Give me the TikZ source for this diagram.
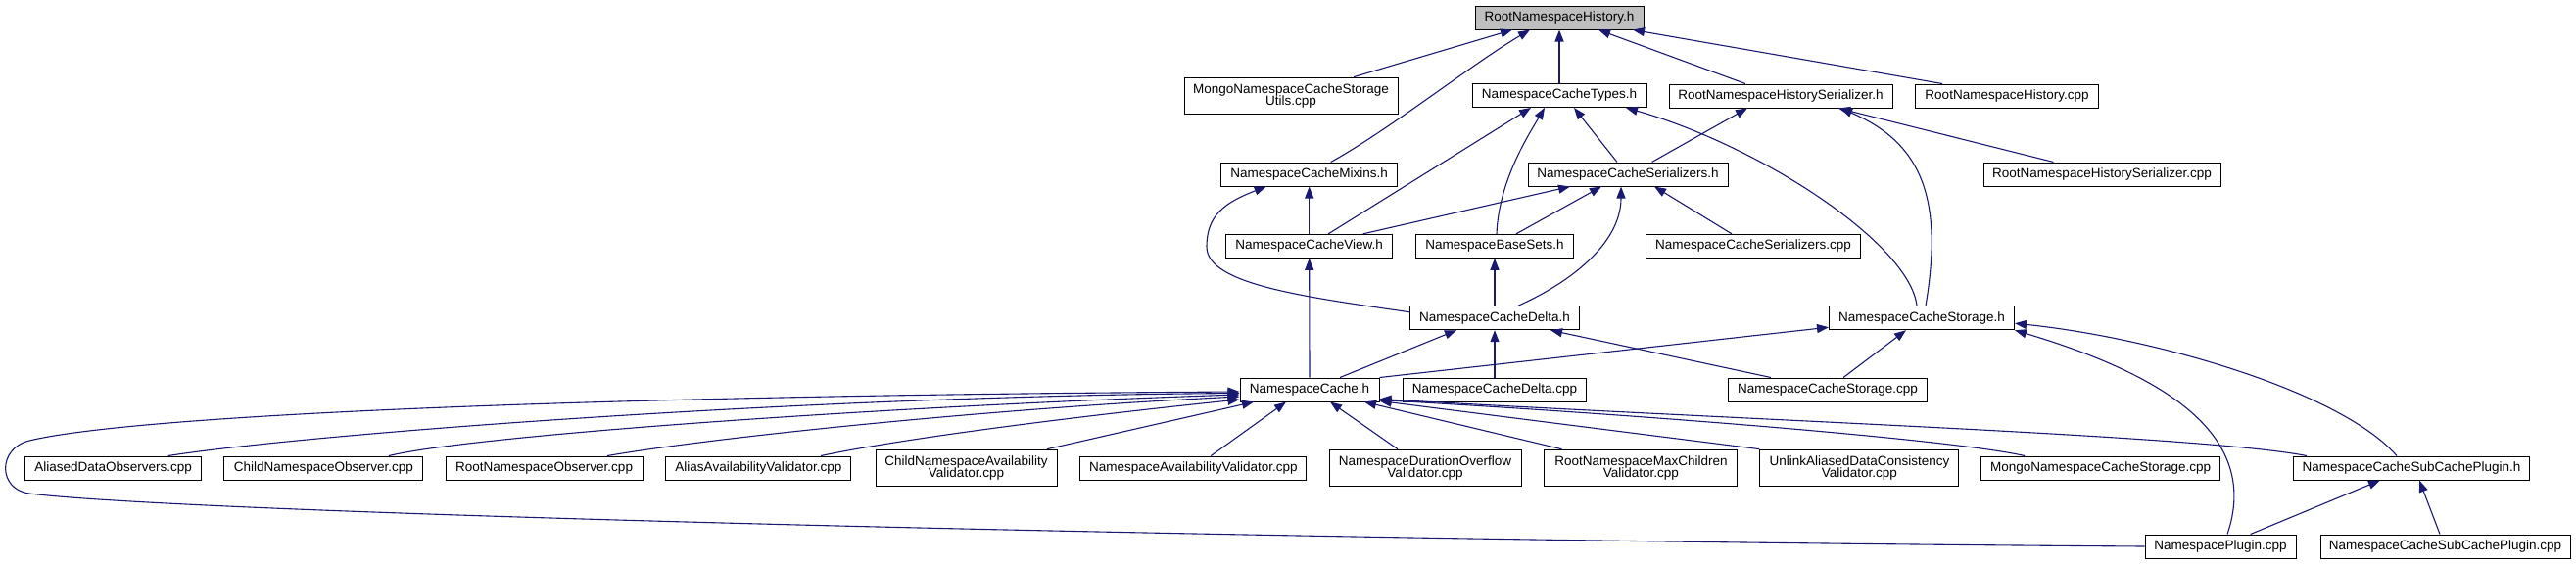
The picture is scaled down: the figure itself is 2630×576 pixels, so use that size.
\documentclass[tikz,border=0pt]{standalone}
\usepackage{fontspec}
\setmainfont{Liberation Sans}
\usetikzlibrary{arrows.meta,calc}
\definecolor{edgeblue}{HTML}{191970}
\definecolor{rootgray}{HTML}{BFBFBF}
\begin{document}
\begin{tikzpicture}[x=1pt, y=-1pt,
  box/.style={draw=black, line width=1pt, fill=white, inner sep=0pt, minimum height=24pt,
    font=\fontsize{13.5}{12.8}\selectfont, align=center},
  dbox/.style={box, minimum height=37.7pt},
  dep/.style={draw=edgeblue, line width=1.1pt, -{Triangle[length=12pt,width=9pt]}}]
\useasboundingbox (0,0) rectangle (2630,576);

% nodes
\node[box, fill=rootgray, minimum width=172pt] (rnh) at (1592,18) {RootNamespaceHistory.h};
\node[dbox, minimum width=218pt] (mutils) at (1318,98) {MongoNamespaceCacheStorage\\Utils.cpp};
\node[box, minimum width=178pt] (types) at (1592,97.5) {NamespaceCacheTypes.h};
\node[box, minimum width=228pt] (rnhs) at (1818,98) {RootNamespaceHistorySerializer.h};
\node[box, minimum width=187pt] (rnhcpp) at (2049,98) {RootNamespaceHistory.cpp};
\node[box, minimum width=180pt] (mixins) at (1336.7,178) {NamespaceCacheMixins.h};
\node[box, minimum width=204pt] (ser) at (1662,178) {NamespaceCacheSerializers.h};
\node[box, minimum width=242pt] (rnhscpp) at (2146,178) {RootNamespaceHistorySerializer.cpp};
\node[box, minimum width=170pt] (view) at (1336.7,251.3) {NamespaceCacheView.h};
\node[box, minimum width=161pt] (basesets) at (1526,251.3) {NamespaceBaseSets.h};
\node[box, minimum width=219pt] (sercpp) at (1790,251.3) {NamespaceCacheSerializers.cpp};
\node[box, minimum width=173pt] (delta) at (1526,324.7) {NamespaceCacheDelta.h};
\node[box, minimum width=189pt] (storage) at (1962,324.7) {NamespaceCacheStorage.h};
\node[box, minimum width=142pt] (nc) at (1337,398) {NamespaceCache.h};
\node[box, minimum width=187pt] (deltacpp) at (1526,398) {NamespaceCacheDelta.cpp};
\node[box, minimum width=203pt] (storagecpp) at (1866,398) {NamespaceCacheStorage.cpp};
\node[box, minimum width=180pt] (ado) at (115.7,478) {AliasedDataObservers.cpp};
\node[box, minimum width=202.7pt] (cno) at (330.3,478) {ChildNamespaceObserver.cpp};
\node[box, minimum width=201pt] (rno) at (555.6,478) {RootNamespaceObserver.cpp};
\node[box, minimum width=189pt] (aav) at (774.4,478) {AliasAvailabilityValidator.cpp};
\node[dbox, minimum width=185pt] (cnav) at (986.5,478) {ChildNamespaceAvailability\\Validator.cpp};
\node[box, minimum width=231pt] (nav) at (1218.3,478) {NamespaceAvailabilityValidator.cpp};
\node[dbox, minimum width=196pt] (ndov) at (1455,478) {NamespaceDurationOverflow\\Validator.cpp};
\node[dbox, minimum width=197pt] (rnmc) at (1675.4,478) {RootNamespaceMaxChildren\\Validator.cpp};
\node[dbox, minimum width=203pt] (uadc) at (1898.4,478) {UnlinkAliasedDataConsistency\\Validator.cpp};
\node[box, minimum width=243.5pt] (mncs) at (2144.6,478) {MongoNamespaceCacheStorage.cpp};
\node[box, minimum width=241pt] (subh) at (2462,478) {NamespaceCacheSubCachePlugin.h};
\node[box, minimum width=154pt] (np) at (2267,558) {NamespacePlugin.cpp};
\node[box, minimum width=255pt] (subcpp) at (2496.5,558) {NamespaceCacheSubCachePlugin.cpp};

% edges to RootNamespaceHistory.h
\draw[dep] ([xshift=64pt]mutils.north) -- ([xshift=-48pt]rnh.south);
\draw[dep] ([xshift=22pt]mixins.north) .. controls (1419,132) and (1502,66) .. ([xshift=-30pt]rnh.south);
\draw[dep] (types.north) -- (rnh.south);
\draw[dep] ([xshift=-36pt]rnhs.north) -- ([xshift=40pt]rnh.south);
\draw[dep] ([xshift=-66pt]rnhcpp.north) -- ([xshift=75pt]rnh.south);

% edges to NamespaceCacheTypes.h
\draw[dep] ([xshift=19.5pt]view.north) -- ([xshift=-29pt]types.south);
\draw[dep] ([xshift=2pt]basesets.north) .. controls (1530,185) and (1561,137) .. ([xshift=-15pt]types.south);
\draw[dep] ([xshift=-11pt]ser.north) -- ([xshift=15pt]types.south);
\draw[dep] ([xshift=-5pt]storage.north) .. controls (1950,250) and (1800,150) .. ([xshift=68pt]types.south);

% edges to RootNamespaceHistorySerializer.h
\draw[dep] ([xshift=24.5pt]ser.north) -- ([xshift=-34pt]rnhs.south);
\draw[dep] ([xshift=-49.5pt]rnhscpp.north) -- ([xshift=59pt]rnhs.south);
\draw[dep] ([xshift=4pt]storage.north) .. controls (1985,200) and (1960,145) .. ([xshift=61pt]rnhs.south);

% edges to NamespaceCacheSerializers.h
\draw[dep] ([xshift=55pt]view.north) -- ([xshift=-59pt]ser.south);
\draw[dep] ([xshift=22pt]basesets.north) -- ([xshift=-27pt]ser.south);
\draw[dep] ([xshift=24pt]delta.north) .. controls (1600,290) and (1655,250) .. ([xshift=-7pt]ser.south);
\draw[dep] ([xshift=-22pt]sercpp.north) -- ([xshift=27pt]ser.south);

% edges to NamespaceCacheMixins.h
\draw[dep] (view.north) -- (mixins.south);
\draw[dep] ([yshift=6pt]delta.west) .. controls (1330,303) and (1232,290) .. (1232,252)
  .. controls (1232,220) and (1250,207) .. ([xshift=-44pt]mixins.south);

% edges to view, base sets
\draw[dep] (nc.north) -- (view.south);
\draw[dep] (delta.north) -- (basesets.south);

% edges to NamespaceCacheDelta.h
\draw[dep] ([xshift=31pt]nc.north) -- ([xshift=-39pt]delta.south);
\draw[dep] (deltacpp.north) -- (delta.south);
\draw[dep] ([xshift=-58pt]storagecpp.north) -- ([xshift=57pt]delta.south);

% edges to NamespaceCacheStorage.h
\draw[dep] (nc.north east) -- ([yshift=-9.5pt]storage.west);
\draw[dep] ([xshift=16pt]storagecpp.north) -- ([xshift=-16pt]storage.south);
\draw[dep] ([xshift=7pt]np.north) .. controls (2310,440) and (2200,380) .. (storage.south east);
\draw[dep] ([xshift=-15pt]subh.north) .. controls (2390,400) and (2200,345) .. ([yshift=-5.5pt]storage.east);

% edges to NamespaceCache.h
\draw[dep] (np.west) .. controls (1300,552) and (200,525) .. (30,504)
  .. controls (-2,500) and (-3,458) .. (30,450)
  .. controls (120,428) and (500,405) .. ([yshift=-2pt]nc.west);
\draw[dep] ([xshift=56pt]ado.north) .. controls (300,445) and (800,405) .. ([yshift=-3.5pt]nc.west);
\draw[dep] ([xshift=66.7pt]cno.north) .. controls (480,445) and (900,415) .. ([yshift=-5pt]nc.west);
\draw[dep] ([xshift=64.4pt]rno.north) .. controls (720,448) and (1000,418) .. ([yshift=-7pt]nc.west);
\draw[dep] ([xshift=63.6pt]aav.north) .. controls (920,448) and (1100,425) .. ([yshift=-10pt]nc.west);
\draw[dep] ([xshift=82.5pt]cnav.north) -- ([xshift=-57pt]nc.south);
\draw[dep] ([xshift=18pt]nav.north) -- ([xshift=-24pt]nc.south);
\draw[dep] ([xshift=-28pt]ndov.north) -- ([xshift=21pt]nc.south);
\draw[dep] ([xshift=-81pt]rnmc.north) -- ([xshift=56pt]nc.south);
\draw[dep] (uadc.north west) -- ([yshift=1pt]nc.south east);
\draw[dep] ([xshift=-77.6pt]mncs.north) .. controls (2000,450) and (1700,425) .. ([yshift=2pt]nc.south east);
\draw[dep] ([xshift=14pt]subh.north west) .. controls (2250,445) and (1800,430) .. ([yshift=3pt]nc.south east);

% edges to NamespaceCacheSubCachePlugin.h
\draw[dep] ([xshift=30.6pt]np.north) -- ([xshift=-32pt]subh.south);
\draw[dep] ([xshift=-5.5pt]subcpp.north) -- ([xshift=8pt]subh.south);
\end{tikzpicture}
\end{document}
